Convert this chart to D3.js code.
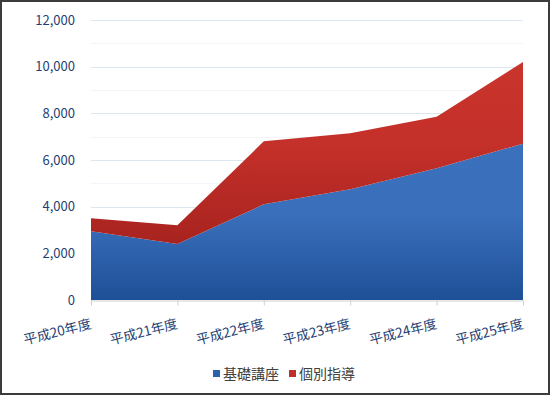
<!DOCTYPE html>
<html><head><meta charset="utf-8">
<script src="https://cdn.jsdelivr.net/npm/d3@7"></script>
<style>
html,body{margin:0;padding:0;background:#fff;}
svg{display:block;font-family:"Noto Sans CJK JP","Noto Sans",sans-serif;}
</style></head>
<body>
<svg id="c" width="550" height="395"></svg>
<script>
const categories = ["平成20年度","平成21年度","平成22年度","平成23年度","平成24年度","平成25年度"];
const seriesNames = ["基礎講座","個別指導"];
const kiso = [2950, 2400, 4100, 4750, 5650, 6700];
const kobetsu = [550, 800, 2700, 2400, 2200, 3500];
const yTicks = [0, 2000, 4000, 6000, 8000, 10000, 12000];

const svg = d3.select("#c");
const W = 550, H = 395;
const m = {left: 91, right: 27, top: 20, bottom: 95};

const x = d3.scalePoint().domain(categories).range([m.left, W - m.right]);
const y = d3.scaleLinear().domain([0, 12000]).range([H - m.bottom, m.top]);

const defs = svg.append("defs");
function grad(id, c1, c2, c3) {
  const g = defs.append("linearGradient").attr("id", id)
    .attr("x1", 0).attr("y1", 0).attr("x2", 0).attr("y2", 1);
  g.append("stop").attr("offset", "0%").attr("stop-color", c1);
  g.append("stop").attr("offset", "45%").attr("stop-color", c2);
  g.append("stop").attr("offset", "100%").attr("stop-color", c3);
}
grad("gBlue", "#3b70bd", "#3a6fbc", "#1d5096");
grad("gRed", "#c9352b", "#c4302a", "#a8231f");

// border
svg.append("rect").attr("x", 1).attr("y", 1).attr("width", W - 2).attr("height", H - 2)
  .attr("fill", "none").attr("stroke", "#3c3c3c").attr("stroke-width", 2);

// minor gridlines
const minor = d3.range(1000, 12000, 2000);
svg.append("g").selectAll("line").data(minor).join("line")
  .attr("x1", m.left).attr("x2", W - m.right)
  .attr("y1", d => Math.round(y(d)) + 0.5).attr("y2", d => Math.round(y(d)) + 0.5)
  .attr("stroke", "#f1f4f9").attr("stroke-width", 1);

// major gridlines
svg.append("g").selectAll("line").data(yTicks.filter(d => d > 0)).join("line")
  .attr("x1", m.left).attr("x2", W - m.right)
  .attr("y1", d => Math.round(y(d)) + 0.5).attr("y2", d => Math.round(y(d)) + 0.5)
  .attr("stroke", "#dde5f0").attr("stroke-width", 1);

// stacked data
const table = categories.map((c, i) => ({cat: c, "基礎講座": kiso[i], "個別指導": kobetsu[i]}));
const stack = d3.stack().keys(seriesNames)(table);
const area = d3.area()
  .x(d => x(d.data.cat))
  .y0(d => y(d[0]))
  .y1(d => y(d[1]));

const fills = ["url(#gBlue)", "url(#gRed)"];
svg.append("g").selectAll("path").data(stack).join("path")
  .attr("d", area)
  .attr("fill", (d, i) => fills[i]);

// x axis baseline & ticks
const xAxis = d3.axisBottom(x).tickSize(5).tickFormat("");
const gx = svg.append("g").attr("transform", `translate(0,${y(0) + 0.5})`).call(xAxis);
gx.select(".domain").attr("stroke", "#d0d0d0").attr("d", `M${m.left},0.5H${W - m.right}`);
gx.selectAll(".tick line").attr("stroke", "#d0d0d0");

// x labels
svg.append("g").selectAll("text").data(categories).join("text")
  .attr("transform", d => `translate(${x(d) + 1},${y(0) + 28}) rotate(-14)`)
  .attr("text-anchor", "end")
  .attr("font-size", 13.5)
  .attr("fill", "#1f3f73")
  .text(d => d);

// y axis labels
const yAxis = d3.axisLeft(y).tickValues(yTicks).tickSize(0).tickPadding(0)
  .tickFormat(d3.format(","));
const gy = svg.append("g").attr("transform", `translate(${m.left - 16},0)`).call(yAxis);
gy.select(".domain").remove();
gy.selectAll("text").attr("font-size", 13).attr("fill", "#1f3f73")
  .attr("font-family", "'Noto Sans CJK JP','Noto Sans',sans-serif");

// legend
const legColors = ["#2a62ad", "#c0302a"];
const leg = svg.append("g").attr("transform", "translate(213,374)");
const legX = [0, 76];
seriesNames.forEach((s, i) => {
  const g = leg.append("g").attr("transform", `translate(${legX[i]},0)`);
  g.append("rect").attr("x", 0).attr("y", -4).attr("width", 7).attr("height", 7).attr("fill", legColors[i]);
  g.append("text").attr("x", 10).attr("y", 0).attr("dy", "0.35em")
    .attr("font-size", 14).attr("fill", "#404040").text(s);
});
</script>
</body></html>
